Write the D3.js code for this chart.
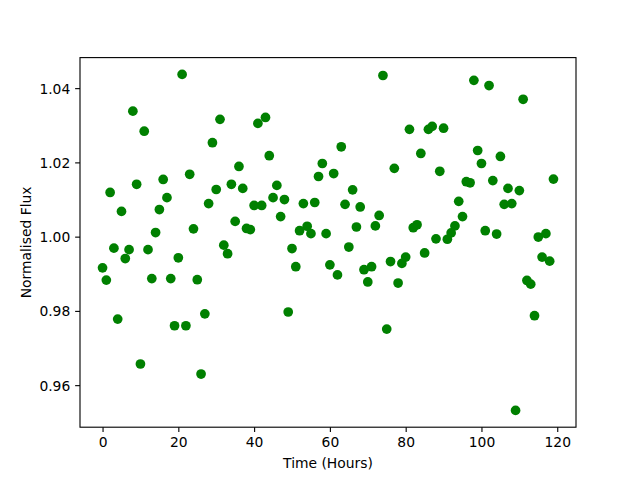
<!DOCTYPE html>
<html>
<head>
<meta charset="utf-8">
<script src="https://cdn.jsdelivr.net/npm/d3@7/dist/d3.min.js"></script>
<style>
  html, body { margin: 0; padding: 0; background: #fff; }
  svg { display: block; }
  text { font-family: "DejaVu Sans", sans-serif; fill: #000; }
</style>
</head>
<body>
<svg id="chart" width="640" height="480"></svg>
<script>
// Time in hours (one point per hour)
const hours = d3.range(0, 120);
// Normalised flux values
const flux = [
  0.9916, 0.9883, 1.0119, 0.9969, 0.9778, 1.0068, 0.9941, 0.9965, 1.0338, 1.0141,
  0.9657, 1.0284, 0.9965, 0.9887, 1.0011, 1.0073, 1.0154, 1.0105, 0.9887, 0.9760,
  0.9943, 1.0437, 0.9760, 1.0168, 1.0021, 0.9884, 0.9630, 0.9792, 1.0089, 1.0253,
  1.0127, 1.0316, 0.9977, 0.9954, 1.0141, 1.0041, 1.0189, 1.0130, 1.0022, 1.0019,
  1.0084, 1.0305, 1.0084, 1.0321, 1.0218, 1.0105, 1.0138, 1.0054, 1.0100, 0.9797,
  0.9968, 0.9919, 1.0016, 1.0089, 1.0028, 1.0008, 1.0092, 1.0162, 1.0197, 1.0008,
  0.9924, 1.0170, 0.9897, 1.0242, 1.0087, 0.9972, 1.0126, 1.0026, 1.0080, 0.9911,
  0.9878, 0.9919, 1.0029, 1.0057, 1.0434, 0.9751, 0.9933, 1.0184, 0.9875, 0.9928,
  0.9945, 1.0289, 1.0024, 1.0032, 1.0224, 0.9956, 1.0289, 1.0297, 0.9994, 1.0176,
  1.0292, 0.9993, 1.0010, 1.0029, 1.0095, 1.0054, 1.0148, 1.0145, 1.0421, 1.0232,
  1.0197, 1.0016, 1.0407, 1.0151, 1.0007, 1.0216, 1.0087, 1.0130, 1.0089, 0.9532,
  1.0124, 1.0370, 0.9882, 0.9872, 0.9787, 0.9999, 0.9945, 1.0008, 0.9934, 1.0155
];
const xTicks = [0, 20, 40, 60, 80, 100, 120];
const yTicks = [0.96, 0.98, 1.00, 1.02, 1.04];
const xLabel = "Time (Hours)";
const yLabel = "Normalised Flux";

const W = 640, H = 480;
const mLeft = 0.125 * W, mRight = 0.9 * W, mTop = H - 0.88 * H, mBottom = H - 0.11 * H;
const pt = 100 / 72;

const data = hours.map((h, i) => ({ x: h, y: flux[i] }));

function padded(ext) {
  const r = ext[1] - ext[0];
  return [ext[0] - 0.05 * r, ext[1] + 0.05 * r];
}
const x = d3.scaleLinear().domain(padded(d3.extent(hours))).range([mLeft, mRight]);
const y = d3.scaleLinear().domain(padded(d3.extent(flux))).range([mBottom, mTop]);

const svg = d3.select("#chart");
const fs = 10 * pt;

// points
svg.append("g").selectAll("circle").data(data).join("circle")
  .attr("cx", d => x(d.x)).attr("cy", d => y(d.y))
  .attr("r", 3.5 * pt).attr("fill", "#008000");

// x axis
const xAxis = d3.axisBottom(x).tickValues(xTicks).tickFormat(d3.format("d"))
  .tickSize(3.5 * pt).tickPadding(3.5 * pt);
const gx = svg.append("g").attr("transform", `translate(0,${mBottom})`).call(xAxis);
gx.select(".domain").remove();
gx.selectAll("line").attr("stroke", "#000").attr("stroke-width", 0.8 * pt);
gx.selectAll("text").attr("font-size", fs).attr("font-family", "DejaVu Sans").attr("fill", "#000")
  .attr("dy", "0.76em");

// y axis
const yAxis = d3.axisLeft(y).tickValues(yTicks).tickFormat(d3.format(".2f"))
  .tickSize(3.5 * pt).tickPadding(3.5 * pt);
const gy = svg.append("g").attr("transform", `translate(${mLeft},0)`).call(yAxis);
gy.select(".domain").remove();
gy.selectAll("line").attr("stroke", "#000").attr("stroke-width", 0.8 * pt);
gy.selectAll("text").attr("font-size", fs).attr("font-family", "DejaVu Sans").attr("fill", "#000")
  .attr("dy", "0.36em");

// frame
svg.append("rect").attr("x", mLeft).attr("y", mTop)
  .attr("width", mRight - mLeft).attr("height", mBottom - mTop)
  .attr("fill", "none").attr("stroke", "#000").attr("stroke-width", 0.8 * pt);

// labels
svg.append("text").attr("x", (mLeft + mRight) / 2).attr("y", 468)
  .attr("text-anchor", "middle").attr("font-size", fs).text(xLabel);
svg.append("text").attr("transform", `translate(31,${(mTop + mBottom) / 2}) rotate(-90)`)
  .attr("text-anchor", "middle").attr("font-size", fs).text(yLabel);
</script>
</body>
</html>
